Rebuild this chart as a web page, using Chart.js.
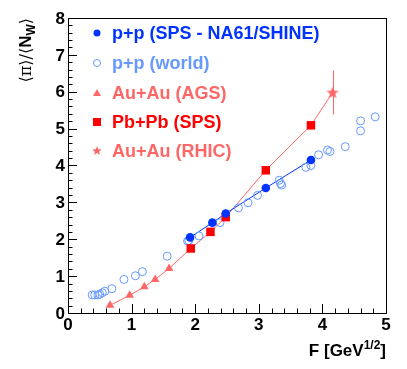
<!DOCTYPE html>
<html>
<head>
<meta charset="utf-8">
<script src="https://cdn.jsdelivr.net/npm/chart.js@4"></script>
<style>
  html, body { margin: 0; padding: 0; background: #fff; overflow: hidden; }
</style>
</head>
<body>
<canvas id="chart" width="407" height="369"></canvas>
<script>
// p+p NA61/SHINE
const na61X = [1.92, 2.27, 2.48, 3.11, 3.82];
const na61Y = [2.05, 2.45, 2.70, 3.39, 4.15];
// p+p world data
const worldX = [0.38, 0.42, 0.47, 0.50, 0.54, 0.58, 0.69, 0.88, 1.06, 1.17, 1.56, 1.88, 1.90, 2.06, 2.39, 2.68, 2.83, 2.98, 3.32, 3.34, 3.36, 3.74, 3.82, 3.94, 4.08, 4.12, 4.36, 4.60, 4.60, 4.83];
const worldY = [0.49, 0.49, 0.49, 0.51, 0.55, 0.59, 0.66, 0.91, 1.01, 1.12, 1.54, 1.95, 1.96, 2.09, 2.45, 2.85, 2.99, 3.19, 3.60, 3.51, 3.47, 3.95, 4.00, 4.29, 4.42, 4.38, 4.51, 4.94, 5.21, 5.32];
// Au+Au AGS
const agsX = [0.66, 0.97, 1.20, 1.37, 1.59];
const agsY = [0.21, 0.48, 0.71, 0.91, 1.21];
// Pb+Pb SPS
const pbX = [1.93, 2.24, 2.48, 3.11, 3.82];
const pbY = [1.75, 2.20, 2.60, 3.87, 5.09];
// Au+Au RHIC
const rhicX = [4.16];
const rhicY = [5.98];
const rhicErr = [0.6];

const xTicks = [0, 1, 2, 3, 4, 5];
const yTicks = [0, 1, 2, 3, 4, 5, 6, 7, 8];
const legendLabels = ["p+p (SPS - NA61/SHINE)", "p+p (world)", "Au+Au (AGS)", "Pb+Pb (SPS)", "Au+Au (RHIC)"];

const BLUE = "#0033ff";
const LIGHTBLUE = "#6699ff";
const SALMON = "#ff6666";
const RED = "#ff0000";
const FONT = "Liberation Sans, Arial, sans-serif";

function pts(xs, ys) {
    return xs.map((x, i) => ({ x: x, y: ys[i] }));
}

function starPath(ctx, x, y, ro, ri) {
    ctx.beginPath();
    for (let i = 0; i < 10; i++) {
        const r = i % 2 ? ri : ro;
        const a = -Math.PI / 2 + i * Math.PI / 5;
        const px = x + r * Math.cos(a), py = y + r * Math.sin(a);
        i ? ctx.lineTo(px, py) : ctx.moveTo(px, py);
    }
    ctx.closePath();
}

// filled star used as point style
const starImg = document.createElement("canvas");
starImg.width = 14;
starImg.height = 14;
(function () {
    const c = starImg.getContext("2d");
    c.fillStyle = SALMON;
    starPath(c, 7, 7.5, 6.5, 2.7);
    c.fill();
})();

const legendItems = [
    { text: legendLabels[0], color: BLUE, style: "circle", fill: true },
    { text: legendLabels[1], color: LIGHTBLUE, style: "circle", fill: false },
    { text: legendLabels[2], color: SALMON, style: "triangle", fill: true },
    { text: legendLabels[3], color: RED, style: "rect", fill: true },
    { text: legendLabels[4], color: SALMON, style: "star", fill: true },
];

function drawMarker(ctx, style, x, y, color, fill) {
    ctx.save();
    ctx.strokeStyle = color;
    ctx.fillStyle = color;
    ctx.lineWidth = 1;
    ctx.beginPath();
    if (style === "circle") {
        ctx.arc(x, y, 3.5, 0, Math.PI * 2);
        fill ? ctx.fill() : ctx.stroke();
    } else if (style === "triangle") {
        ctx.moveTo(x, y - 4);
        ctx.lineTo(x + 4, y + 3);
        ctx.lineTo(x - 4, y + 3);
        ctx.closePath();
        ctx.fill();
    } else if (style === "rect") {
        ctx.rect(x - 4, y - 4, 8, 8);
        ctx.fill();
    } else if (style === "star") {
        starPath(ctx, x, y, 5, 2.1);
        ctx.fill();
    }
    ctx.restore();
}

// frame, ticks, labels, titles, legend, error bars in ROOT style
const rootStyle = {
    id: "rootStyle",
    beforeDatasetsDraw(chart) {
        const ctx = chart.ctx;
        const a = chart.chartArea;
        const xs = chart.scales.x, ys = chart.scales.y;
        ctx.save();
        ctx.strokeStyle = "#000";
        ctx.lineWidth = 1;
        ctx.strokeRect(Math.round(a.left) + 0.5, Math.round(a.top) + 0.5, Math.round(a.right - a.left), Math.round(a.bottom - a.top));
        ctx.beginPath();
        for (let v = 0; v <= 5.0001; v += 0.2) {
            const px = Math.round(xs.getPixelForValue(v)) + 0.5;
            const major = Math.abs(v - Math.round(v)) < 1e-6;
            ctx.moveTo(px, a.bottom);
            ctx.lineTo(px, a.bottom - (major ? 9 : 4.5));
        }
        for (let v = 0; v <= 8.0001; v += 0.2) {
            const py = Math.round(ys.getPixelForValue(v)) + 0.5;
            const major = Math.abs(v - Math.round(v)) < 1e-6;
            ctx.moveTo(a.left, py);
            ctx.lineTo(a.left + (major ? 9 : 4.5), py);
        }
        ctx.stroke();

        // error bar for RHIC point
        ctx.strokeStyle = SALMON;
        ctx.beginPath();
        rhicX.forEach((x, i) => {
            const px = Math.round(xs.getPixelForValue(x)) + 0.5;
            ctx.moveTo(px, ys.getPixelForValue(rhicY[i] + rhicErr[i]));
            ctx.lineTo(px, ys.getPixelForValue(rhicY[i] - rhicErr[i]));
        });
        ctx.stroke();
        ctx.restore();
    },
    afterDraw(chart) {
        const ctx = chart.ctx;
        const a = chart.chartArea;
        const xs = chart.scales.x, ys = chart.scales.y;
        ctx.save();
        ctx.fillStyle = "#000";
        ctx.font = "bold 17px " + FONT;
        ctx.textAlign = "center";
        ctx.textBaseline = "middle";
        xTicks.forEach(v => ctx.fillText(String(v), xs.getPixelForValue(v), a.bottom + 12));
        ctx.textAlign = "right";
        yTicks.forEach(v => ctx.fillText(String(v), a.left - 3, ys.getPixelForValue(v) + 1));

        // x title: F [GeV^1/2]
        ctx.textBaseline = "alphabetic";
        ctx.textAlign = "left";
        const base = 356;
        const p1 = "F [GeV", sup = "1/2", p2 = "]";
        ctx.font = "bold 17px " + FONT;
        const w1 = ctx.measureText(p1).width, w3 = ctx.measureText(p2).width;
        ctx.font = "bold 12px " + FONT;
        const w2 = ctx.measureText(sup).width;
        let x0 = a.right - (w1 + w2 + w3);
        ctx.font = "bold 17px " + FONT;
        ctx.fillText(p1, x0, base);
        ctx.font = "bold 12px " + FONT;
        ctx.fillText(sup, x0 + w1, base - 7);
        ctx.font = "bold 17px " + FONT;
        ctx.fillText(p2, x0 + w1 + w2, base);

        // y title: <pi>/<N_W>, rotated
        ctx.save();
        ctx.translate(31, a.top);
        ctx.rotate(-Math.PI / 2);
        const parts = [
            { t: "\u27E8\u03C0\u27E9/\u27E8", f: "16px DejaVu Serif", dy: 0 },
            { t: "N", f: "bold 17px " + FONT, dy: 0 },
            { t: "W", f: "bold 12px " + FONT, dy: 4 },
            { t: "\u27E9", f: "16px DejaVu Serif", dy: 0 },
        ];
        let total = 0;
        parts.forEach(p => { ctx.font = p.f; p.w = ctx.measureText(p.t).width; total += p.w; });
        let cx = -total;
        parts.forEach(p => { ctx.font = p.f; ctx.fillText(p.t, cx, p.dy); cx += p.w; });
        ctx.restore();

        // legend
        const rows = [33, 63, 93, 122, 151];
        ctx.font = "bold 18px " + FONT;
        ctx.textBaseline = "middle";
        legendItems.forEach((it, i) => {
            drawMarker(ctx, it.style, 97, rows[i], it.color, it.fill);
            ctx.fillStyle = it.color;
            ctx.fillText(it.text, 112, rows[i] + 1);
        });
        ctx.restore();
    }
};

const ctx = document.getElementById("chart").getContext("2d");
new Chart(ctx, {
    type: "scatter",
    data: {
        datasets: [
            {
                label: legendLabels[0],
                data: pts(na61X, na61Y),
                pointStyle: "circle",
                pointRadius: 4.3,
                backgroundColor: BLUE,
                borderColor: BLUE,
                borderWidth: 0,
            },
            {
                label: legendLabels[3],
                data: pts(pbX, pbY),
                pointStyle: "rect",
                pointRadius: 6,
                backgroundColor: RED,
                borderColor: RED,
                borderWidth: 0,
            },
            {
                label: legendLabels[2],
                data: pts(agsX, agsY),
                pointStyle: "triangle",
                pointRadius: 5,
                backgroundColor: SALMON,
                borderColor: SALMON,
                borderWidth: 0,
            },
            {
                label: legendLabels[4],
                data: pts(rhicX, rhicY),
                pointStyle: starImg,
                pointRadius: 7,
                backgroundColor: SALMON,
                borderColor: SALMON,
            },
            {
                label: legendLabels[1],
                data: pts(worldX, worldY),
                pointStyle: "circle",
                pointRadius: 4,
                backgroundColor: "rgba(0,0,0,0)",
                borderColor: LIGHTBLUE,
                borderWidth: 1,
            },
            {
                label: "na61 line",
                data: pts(na61X, na61Y),
                showLine: true,
                pointRadius: 0,
                borderColor: BLUE,
                borderWidth: 1,
            },
            {
                label: "AA line",
                data: pts(agsX.concat(pbX, rhicX), agsY.concat(pbY, rhicY)),
                showLine: true,
                pointRadius: 0,
                borderColor: SALMON,
                borderWidth: 1,
            },
        ],
    },
    options: {
        responsive: false,
        animation: false,
        devicePixelRatio: 1,
        layout: { padding: { left: 68, right: 21, top: 18, bottom: 56 } },
        plugins: { legend: { display: false }, tooltip: { enabled: false } },
        scales: {
            x: { type: "linear", min: 0, max: 5, display: false },
            y: { type: "linear", min: 0, max: 8, display: false },
        },
    },
    plugins: [rootStyle],
});
</script>
</body>
</html>
